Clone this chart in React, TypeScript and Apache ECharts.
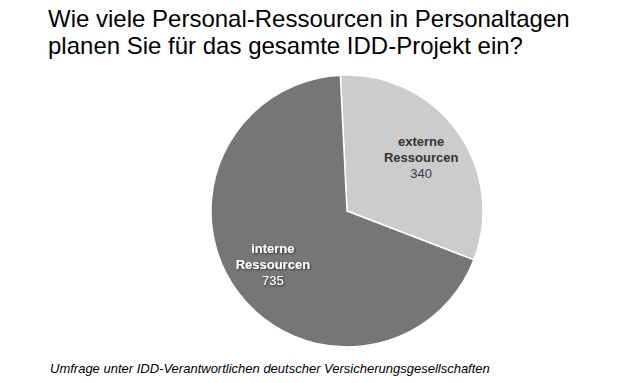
import React, { useEffect, useRef } from "react";
import * as echarts from "echarts";

const titleLines = ["Wie viele Personal-Ressourcen in Personaltagen", "planen Sie für das gesamte IDD-Projekt ein?"];
const footnote = "Umfrage unter IDD-Verantwortlichen deutscher Versicherungsgesellschaften";
const categories = ["externe\nRessourcen", "interne\nRessourcen"];
const values = [340, 735];
const colors = ["#cccccc", "#767676"];
const labelColors = ["#333333", "#ffffff"];

export default function App() {
  const ref = useRef<HTMLDivElement>(null);
  useEffect(() => {
    if (!ref.current) return;
    const chart = echarts.init(ref.current, null, { renderer: "svg" });
    const center = [347, 211];
    const data = categories.map((c, i) => ({
      name: c,
      value: values[i],
      itemStyle: { color: colors[i] },
    }));
    const labelData = categories.map((c, i) => ({
      name: c,
      value: values[i],
      label: {
        rich: {
          n: {
            fontFamily: "Liberation Sans, Arial, sans-serif",
            fontSize: 13,
            fontWeight: "bold",
            color: labelColors[i],
            lineHeight: 16,
            textShadowColor: i === 1 ? "rgba(0,0,0,0.6)" : "transparent",
            textShadowBlur: i === 1 ? 2 : 0,
            textShadowOffsetX: i === 1 ? 1 : 0,
            textShadowOffsetY: i === 1 ? 1 : 0,
          },
          v: {
            fontFamily: "Liberation Sans, Arial, sans-serif",
            fontSize: 13,
            color: i === 1 ? "#ffffff" : "#3a3a4a",
            lineHeight: 16,
            textShadowColor: i === 1 ? "rgba(0,0,0,0.6)" : "transparent",
            textShadowBlur: i === 1 ? 2 : 0,
            textShadowOffsetX: i === 1 ? 1 : 0,
            textShadowOffsetY: i === 1 ? 1 : 0,
          },
        },
      },
    }));
    chart.setOption({
      animation: false,
      backgroundColor: "#ffffff",
      title: {
        text: titleLines.join("\n"),
        left: 43,
        top: 0,
        textStyle: {
          fontFamily: "Liberation Sans, Arial, sans-serif",
          fontSize: 24,
          fontWeight: "normal",
          color: "#000000",
          lineHeight: 27,
        },
      },
      graphic: [
        {
          type: "text",
          left: 50,
          top: 362,
          style: {
            text: footnote,
            font: "italic 13px 'Liberation Sans', Arial, sans-serif",
            fill: "#000000",
          },
        },
      ],
      series: [
        {
          type: "pie",
          center,
          radius: [0, 136],
          startAngle: 92.8,
          clockwise: true,
          silent: true,
          label: { show: false },
          labelLine: { show: false },
          itemStyle: { borderColor: "#ffffff", borderWidth: 1.5 },
          data,
        },
        {
          type: "pie",
          center,
          radius: [41, 136],
          startAngle: 92.8,
          clockwise: true,
          silent: true,
          itemStyle: { color: "transparent", borderWidth: 0 },
          labelLine: { show: false },
          label: {
            show: true,
            position: "inside",
            formatter: (p: any) =>
              p.name
                .split("\n")
                .map((s: string) => `{n|${s}}`)
                .join("\n") + `\n{v|${p.value}}`,
          },
          data: labelData,
        },
      ],
    });
    return () => chart.dispose();
  }, []);
  return <div ref={ref} style={{ width: 621, height: 383, position: "absolute", left: 0, top: 0 }} />;
}
